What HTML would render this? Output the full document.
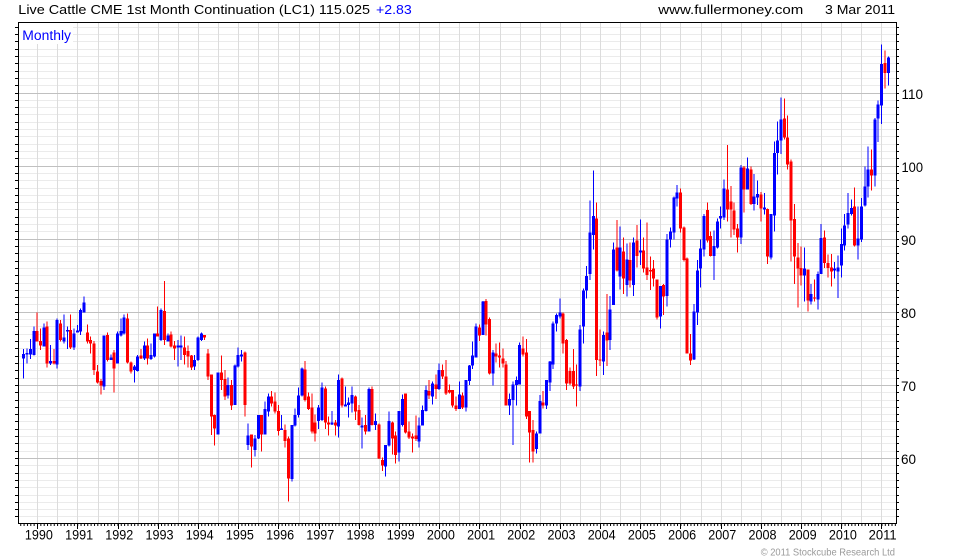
<!DOCTYPE html>
<html><head><meta charset="utf-8"><style>html,body{margin:0;padding:0;background:#fff}svg{display:block}</style></head><body>
<svg xmlns="http://www.w3.org/2000/svg" width="980" height="560" viewBox="0 0 980 560" font-family="'Liberation Sans', Arial, sans-serif">
<defs>
<pattern id="mt" patternUnits="userSpaceOnUse" x="37" y="524" width="3.351" height="3"><rect width="1" height="2" fill="#000"/></pattern>
</defs>
<rect width="980" height="560" fill="#fff"/>
<!-- header -->
<text x="18.3" y="14" font-size="13" fill="#000" textLength="351.7" lengthAdjust="spacingAndGlyphs">Live Cattle CME 1st Month Continuation (LC1) 115.025</text>
<text x="376" y="14" font-size="13" fill="#0000ff" textLength="35.7" lengthAdjust="spacingAndGlyphs">+2.83</text>
<text x="658.3" y="14" font-size="13" fill="#000" textLength="145" lengthAdjust="spacingAndGlyphs">www.fullermoney.com</text>
<text x="825" y="14" font-size="13" fill="#000" textLength="70" lengthAdjust="spacingAndGlyphs">3 Mar 2011</text>
<!-- ticks (left/right) -->
<path stroke="#000" stroke-width="1" shape-rendering="crispEdges" d="M15 27.5H899M15 34.5H899M15 41.5H899M15 49.5H899M15 56.5H899M15 63.5H899M15 71.5H899M15 78.5H899M15 85.5H899M15 93.5H899M15 100.5H899M15 107.5H899M15 114.5H899M15 122.5H899M15 129.5H899M15 136.5H899M15 144.5H899M15 151.5H899M15 158.5H899M15 166.5H899M15 173.5H899M15 180.5H899M15 188.5H899M15 195.5H899M15 202.5H899M15 209.5H899M15 217.5H899M15 224.5H899M15 231.5H899M15 239.5H899M15 246.5H899M15 253.5H899M15 261.5H899M15 268.5H899M15 275.5H899M15 283.5H899M15 290.5H899M15 297.5H899M15 304.5H899M15 312.5H899M15 319.5H899M15 326.5H899M15 334.5H899M15 341.5H899M15 348.5H899M15 356.5H899M15 363.5H899M15 370.5H899M15 378.5H899M15 385.5H899M15 392.5H899M15 400.5H899M15 407.5H899M15 414.5H899M15 421.5H899M15 429.5H899M15 436.5H899M15 443.5H899M15 451.5H899M15 458.5H899M15 465.5H899M15 473.5H899M15 480.5H899M15 487.5H899M15 495.5H899M15 502.5H899M15 509.5H899M15 516.5H899"/>
<rect x="19" y="23" width="877" height="500" fill="#fff"/>
<!-- minor grid -->
<path stroke="#ebebeb" stroke-width="1" shape-rendering="crispEdges" d="M19 27.5H896M19 34.5H896M19 41.5H896M19 49.5H896M19 56.5H896M19 63.5H896M19 71.5H896M19 78.5H896M19 85.5H896M19 100.5H896M19 107.5H896M19 114.5H896M19 122.5H896M19 129.5H896M19 136.5H896M19 144.5H896M19 151.5H896M19 158.5H896M19 173.5H896M19 180.5H896M19 188.5H896M19 195.5H896M19 202.5H896M19 209.5H896M19 217.5H896M19 224.5H896M19 231.5H896M19 246.5H896M19 253.5H896M19 261.5H896M19 268.5H896M19 275.5H896M19 283.5H896M19 290.5H896M19 297.5H896M19 304.5H896M19 319.5H896M19 326.5H896M19 334.5H896M19 341.5H896M19 348.5H896M19 356.5H896M19 363.5H896M19 370.5H896M19 378.5H896M19 392.5H896M19 400.5H896M19 407.5H896M19 414.5H896M19 421.5H896M19 429.5H896M19 436.5H896M19 443.5H896M19 451.5H896M19 465.5H896M19 473.5H896M19 480.5H896M19 487.5H896M19 495.5H896M19 502.5H896M19 509.5H896M19 516.5H896"/>
<!-- vertical grid -->
<path stroke="#dcdcdc" stroke-width="1" shape-rendering="crispEdges" d="M37.5 23V523M57.5 23V523M77.5 23V523M98.5 23V523M118.5 23V523M138.5 23V523M158.5 23V523M178.5 23V523M198.5 23V523M218.5 23V523M238.5 23V523M258.5 23V523M278.5 23V523M299.5 23V523M319.5 23V523M339.5 23V523M359.5 23V523M379.5 23V523M399.5 23V523M419.5 23V523M439.5 23V523M459.5 23V523M479.5 23V523M500.5 23V523M520.5 23V523M540.5 23V523M560.5 23V523M580.5 23V523M600.5 23V523M620.5 23V523M640.5 23V523M660.5 23V523M680.5 23V523M701.5 23V523M721.5 23V523M741.5 23V523M761.5 23V523M781.5 23V523M801.5 23V523M821.5 23V523M841.5 23V523M861.5 23V523M881.5 23V523"/>
<!-- major grid -->
<path stroke="#c0c0c0" stroke-width="1" shape-rendering="crispEdges" d="M19 93.5H896M19 166.5H896M19 239.5H896M19 312.5H896M19 385.5H896M19 458.5H896"/>
<!-- Monthly label -->
<rect x="19" y="23" width="54" height="21" fill="#fff"/>
<text x="22.3" y="40" font-size="13.5" fill="#0000ff" textLength="48.7" lengthAdjust="spacingAndGlyphs">Monthly</text>

<!-- Segment A -->
<g transform="translate(23.7,275) scale(3.351,0.33333)" fill="none" shape-rendering="crispEdges">
<path stroke="#0000ff" stroke-width="1" vector-effect="non-scaling-stroke" d="M0 222V310M1 220V265M2 192V252M3 155V242M6 145V215M8 210V270M10 130V280M12 118V205M13 155V222M15 160V225M16 150V172M17 100V180M18 65V112M24 182V345M26 238V255M28 170V265M29 130V185M30 118V178M33 270V322M34 240V290M36 200V255M38 205V255M39 175V248M41 100V198M43 175V200M46 195V275M47 182V255M51 240V285M52 185V258M53 172V198"/>
<path stroke="#0000ff" stroke-width="3" vector-effect="non-scaling-stroke" d="M0 237V250M1 234V238M2 222V238M3 168V240M6 158V215M8 258V265M10 135V268M12 188V200M13 165V170M15 175V218M16 166V172M17 105V170M18 82V112M24 182V335M26 248V255M28 175V265M29 168V182M30 128V175M33 275V285M34 245V288M36 212V250M38 240V252M39 175V245M41 105V195M43 182V200M46 212V218M47 212V218M51 255V275M52 188V255M53 175V195"/>
<path stroke="#ff0000" stroke-width="1" vector-effect="non-scaling-stroke" d="M4 112V200M5 160V225M7 140V278M9 222V268M11 135V200M14 118V222M19 148V205M20 185V235M21 198V300M22 270V325M23 312V358M25 172V260M27 225V352M31 115V265M32 260V295M35 222V252M37 190V268M40 95V185M42 18V210M44 170V218M45 198V255M48 185V268M49 212V278M50 240V285M54 180V195"/>
<path stroke="#ff0000" stroke-width="3" vector-effect="non-scaling-stroke" d="M4 168V200M5 198V212M7 155V265M9 258V265M11 145V195M14 165V218M19 172V200M20 195V205M21 205V285M22 290V322M23 318V332M25 180V255M27 232V280M31 130V262M32 262V290M35 242V250M37 212V250M40 175V185M42 108V195M44 178V215M45 212V220M48 218V240M49 228V245M50 242V278M54 180V188"/>
</g>

<!-- Segment B -->
<g transform="translate(23.7,335) scale(3.351,0.33333)" fill="none" shape-rendering="crispEdges">
<path stroke="#0000ff" stroke-width="1" vector-effect="non-scaling-stroke" d="M58 112V298M61 128V190M63 88V210M64 38V98M65 45V80M67 265V345M69 300V365M70 240V312M72 200V298M73 175V245M77 240V285M80 270V440M81 220V275M82 158V248M83 98V185M88 210V282M89 142V258M92 228V270M94 118V308M96 155V215M97 188V248M98 155V232M101 248V340M103 158V290M105 235V285M108 330V425M109 230V335"/>
<path stroke="#0000ff" stroke-width="3" vector-effect="non-scaling-stroke" d="M58 112V298M61 150V182M63 92V210M64 60V95M65 58V65M67 302V330M69 310V345M70 240V310M72 222V298M73 185V230M77 280V285M80 270V432M81 240V272M82 182V240M83 100V182M88 218V258M89 158V255M92 262V268M94 135V275M96 208V215M97 202V210M98 180V205M101 272V278M103 162V290M105 258V270M108 330V395M109 258V332"/>
<path stroke="#ff0000" stroke-width="1" vector-effect="non-scaling-stroke" d="M55 42V135M56 118V300M57 238V332M59 62V165M60 105V195M62 135V225M66 50V245M68 298V398M71 240V350M74 168V215M75 172V235M76 210V302M78 268V338M79 305V500M84 78V200M85 172V225M86 175V295M87 238V320M90 155V282M91 245V302M93 255V302M95 128V218M99 182V255M100 210V272M102 240V298M104 155V272M106 265V372M107 368V408M110 260V358"/>
<path stroke="#ff0000" stroke-width="3" vector-effect="non-scaling-stroke" d="M55 55V125M56 118V245M57 240V280M59 112V135M60 132V185M62 150V212M66 52V210M68 298V335M71 240V298M74 185V205M75 200V230M76 228V288M78 285V318M79 310V430M84 103V195M85 185V222M86 218V290M87 262V295M90 160V262M91 262V268M93 262V272M95 130V212M99 185V230M100 225V270M102 270V290M104 162V270M106 268V370M107 375V392M110 262V310"/>
</g>

<!-- Segment C -->
<g transform="translate(23.7,285) scale(3.351,0.33333)" fill="none" shape-rendering="crispEdges">
<path stroke="#0000ff" stroke-width="1" vector-effect="non-scaling-stroke" d="M112 378V530M113 328V425M118 398V488M119 362V422M120 302V380M122 290V358M124 235V315M130 290V372M132 285V380M133 240V300M134 170V252M135 115V218M137 48V150M140 195V302M145 325V390M146 290V480M147 275V362M148 172V298M153 440V505M154 330V445M156 285V372M157 228V318M158 110V252M159 85V140M160 40V100"/>
<path stroke="#0000ff" stroke-width="3" vector-effect="non-scaling-stroke" d="M112 378V502M113 342V420M118 422V470M119 375V422M120 315V378M122 295V335M124 255V312M130 328V372M132 285V368M133 242V288M134 212V242M135 125V218M137 50V150M140 202V265M145 342V362M146 298V345M147 285V300M148 180V298M153 445V492M154 348V445M156 285V362M157 230V292M158 115V238M159 90V115M160 82V95"/>
<path stroke="#ff0000" stroke-width="1" vector-effect="non-scaling-stroke" d="M111 440V535M114 325V445M115 410V462M116 445V502M117 392V468M121 285V342M123 268V342M125 238V282M126 225V330M127 298V325M128 315V368M129 335V378M131 322V372M136 118V168M138 42V152M139 98V268M141 175V232M142 172V248M143 190V248M144 228V362M149 155V215M150 162V402M151 378V532M152 405V532M155 318V370M161 82V205M162 162V315M163 248V300M164 192V312M165 238V365"/>
<path stroke="#ff0000" stroke-width="3" vector-effect="non-scaling-stroke" d="M111 452V510M114 325V442M115 440V458M116 455V460M117 452V462M121 318V332M123 298V312M125 255V275M126 275V325M127 315V322M128 315V362M129 362V372M131 332V368M136 128V152M138 48V118M139 102V265M141 205V215M142 212V218M143 220V235M144 238V362M149 190V208M150 202V395M151 378V442M152 435V500M155 352V362M161 85V175M162 165V295M163 258V295M164 258V305M165 298V302"/>
</g>

<!-- Segment D -->
<g transform="translate(23.7,150) scale(3.351,0.33333)" fill="none" shape-rendering="crispEdges">
<path stroke="#0000ff" stroke-width="1" vector-effect="non-scaling-stroke" d="M166 525V723M167 415V580M168 348V445M169 152V390M170 62V298M173 545V675M175 438V600M176 278V465M178 230V418M180 280V440M182 262V438M184 208V345M190 408V535M192 252V470M193 232V292M194 140V268M195 105V170M200 462V630M201 330V525M202 268V412M203 192V320M206 242V390M207 205V295M208 170V235M209 88V210M214 45V282M216 22V118M218 72V182M219 92V165"/>
<path stroke="#0000ff" stroke-width="3" vector-effect="non-scaling-stroke" d="M166 538V710M167 422V530M168 378V422M169 248V372M170 198V255M173 555V635M175 478V570M176 298V465M178 292V380M180 328V405M182 278V405M184 302V308M190 408V500M192 268V438M193 245V268M194 142V248M195 128V145M200 485V628M201 362V488M202 295V355M203 198V298M206 288V318M207 215V292M208 198V205M209 115V202M214 52V262M216 55V118M218 140V162M219 132V142"/>
<path stroke="#ff0000" stroke-width="1" vector-effect="non-scaling-stroke" d="M171 158V678M172 538V648M174 432V648M177 210V365M179 262V432M181 278V412M183 225V352M185 262V368M186 218V390M187 320V420M188 330V410M189 388V508M191 402V495M196 115V248M197 230V335M198 322V610M199 552V645M204 158V278M205 245V320M210 -15V215M211 108V262M212 158V255M213 222V308M215 48V188M217 50V165"/>
<path stroke="#ff0000" stroke-width="3" vector-effect="non-scaling-stroke" d="M171 205V630M172 628V632M174 548V572M177 292V362M179 305V385M181 330V392M183 272V318M185 302V355M186 352V375M187 360V365M188 355V385M189 388V502M191 405V440M196 128V235M197 232V330M198 325V610M199 610V632M204 180V272M205 258V318M210 118V178M211 155V178M212 182V238M213 235V262M215 52V118M217 58V162"/>
</g>

<!-- Segment E -->
<g transform="translate(23.7,38) scale(3.351,0.33333)" fill="none" shape-rendering="crispEdges">
<path stroke="#0000ff" stroke-width="1" vector-effect="non-scaling-stroke" d="M221 465V530M223 528V665M224 310V580M225 250V410M226 178V348M233 628V790M235 738V800M237 700V815M238 558V708M242 672V722M243 652V780M244 572V718M245 528V638M246 465V572M247 485V532M249 505V665M250 480V612M251 385V505M252 325V478M254 240V445M255 188V312M256 20V258M258 55V142"/>
<path stroke="#0000ff" stroke-width="3" vector-effect="non-scaling-stroke" d="M221 508V514M223 528V658M224 345V532M225 308V345M226 245V308M233 692V712M235 768V790M237 708V785M238 600V708M242 692V698M243 688V700M244 618V682M245 562V622M246 525V560M247 510V528M249 602V622M250 505V605M251 445V502M252 395V445M254 245V412M255 200V242M256 78V202M258 58V105"/>
<path stroke="#ff0000" stroke-width="1" vector-effect="non-scaling-stroke" d="M220 462V550M222 512V678M227 182V305M228 232V395M229 365V670M230 498V738M231 615V808M232 625V742M234 695V820M236 725V790M239 578V690M240 650V718M241 648V745M248 448V625M253 335V458M257 38V152"/>
<path stroke="#ff0000" stroke-width="3" vector-effect="non-scaling-stroke" d="M220 470V512M222 513V655M227 242V298M228 298V380M229 370V548M230 543V655M231 658V692M232 690V712M234 695V788M236 778V782M239 598V675M240 675V690M241 688V700M248 505V622M253 395V412M257 75V105"/>
</g>

<!-- border -->
<rect x="18.5" y="22.5" width="878" height="501" fill="none" stroke="#000" stroke-width="1" shape-rendering="crispEdges"/>
<!-- bottom ticks -->
<rect x="19" y="524" width="877" height="2" fill="url(#mt)"/>
<path stroke="#000" stroke-width="1" shape-rendering="crispEdges" d="M37.5 524V529M77.5 524V529M118.5 524V529M158.5 524V529M198.5 524V529M238.5 524V529M278.5 524V529M319.5 524V529M359.5 524V529M399.5 524V529M439.5 524V529M479.5 524V529M520.5 524V529M560.5 524V529M600.5 524V529M640.5 524V529M680.5 524V529M721.5 524V529M761.5 524V529M801.5 524V529M841.5 524V529M881.5 524V529"/>
<!-- year labels -->
<g font-size="14" fill="#000" text-anchor="middle">
<text x="38.9" y="539.5" textLength="28" lengthAdjust="spacingAndGlyphs">1990</text>
<text x="79.1" y="539.5" textLength="28" lengthAdjust="spacingAndGlyphs">1991</text>
<text x="119.3" y="539.5" textLength="28" lengthAdjust="spacingAndGlyphs">1992</text>
<text x="159.5" y="539.5" textLength="28" lengthAdjust="spacingAndGlyphs">1993</text>
<text x="199.7" y="539.5" textLength="28" lengthAdjust="spacingAndGlyphs">1994</text>
<text x="239.9" y="539.5" textLength="28" lengthAdjust="spacingAndGlyphs">1995</text>
<text x="280.1" y="539.5" textLength="28" lengthAdjust="spacingAndGlyphs">1996</text>
<text x="320.3" y="539.5" textLength="28" lengthAdjust="spacingAndGlyphs">1997</text>
<text x="360.5" y="539.5" textLength="28" lengthAdjust="spacingAndGlyphs">1998</text>
<text x="400.7" y="539.5" textLength="28" lengthAdjust="spacingAndGlyphs">1999</text>
<text x="440.9" y="539.5" textLength="28" lengthAdjust="spacingAndGlyphs">2000</text>
<text x="481.1" y="539.5" textLength="28" lengthAdjust="spacingAndGlyphs">2001</text>
<text x="521.3" y="539.5" textLength="28" lengthAdjust="spacingAndGlyphs">2002</text>
<text x="561.5" y="539.5" textLength="28" lengthAdjust="spacingAndGlyphs">2003</text>
<text x="601.7" y="539.5" textLength="28" lengthAdjust="spacingAndGlyphs">2004</text>
<text x="641.9" y="539.5" textLength="28" lengthAdjust="spacingAndGlyphs">2005</text>
<text x="682.1" y="539.5" textLength="28" lengthAdjust="spacingAndGlyphs">2006</text>
<text x="722.3" y="539.5" textLength="28" lengthAdjust="spacingAndGlyphs">2007</text>
<text x="762.5" y="539.5" textLength="28" lengthAdjust="spacingAndGlyphs">2008</text>
<text x="802.7" y="539.5" textLength="28" lengthAdjust="spacingAndGlyphs">2009</text>
<text x="842.9" y="539.5" textLength="28" lengthAdjust="spacingAndGlyphs">2010</text>
<text x="882.6" y="539.5" textLength="28" lengthAdjust="spacingAndGlyphs">2011</text>
</g>
<!-- right axis labels -->
<g font-size="14" fill="#000">
<text x="901.5" y="99" textLength="21.5" lengthAdjust="spacingAndGlyphs">110</text>
<text x="901.5" y="172" textLength="21.5" lengthAdjust="spacingAndGlyphs">100</text>
<text x="901" y="245" textLength="15" lengthAdjust="spacingAndGlyphs">90</text>
<text x="901" y="318" textLength="15" lengthAdjust="spacingAndGlyphs">80</text>
<text x="901" y="391" textLength="15" lengthAdjust="spacingAndGlyphs">70</text>
<text x="901" y="464" textLength="15" lengthAdjust="spacingAndGlyphs">60</text>
</g>
<!-- copyright -->
<text x="760.7" y="555.5" font-size="10" fill="#9a9a9a" textLength="134.3" lengthAdjust="spacingAndGlyphs">© 2011 Stockcube Research Ltd</text>
</svg>
</body></html>
